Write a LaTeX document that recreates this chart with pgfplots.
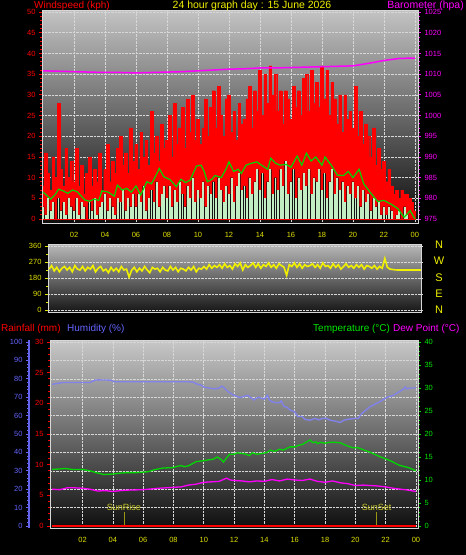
\documentclass[border=0pt]{standalone}
\usepackage{pgfplots}
\pgfplotsset{compat=1.18}
\usepackage{pgfplotstable}
\usepackage{fontspec}
\setmainfont{Liberation Sans}
\definecolor{wred}{RGB}{255,0,0}
\definecolor{wmag}{RGB}{255,0,255}
\definecolor{wyel}{RGB}{240,240,0}
\definecolor{tyel}{RGB}{225,225,0}
\definecolor{wgreen}{RGB}{0,215,0}
\definecolor{tgreen}{RGB}{0,230,0}
\definecolor{wwhite}{RGB}{195,238,195}
\definecolor{humline}{RGB}{130,130,235}
\definecolor{humtext}{RGB}{100,100,255}
\definecolor{humaxis}{RGB}{100,100,235}
\definecolor{frame}{RGB}{215,215,215}
\definecolor{gridc}{RGB}{215,215,215}
\definecolor{sunc}{RGB}{200,200,40}
\definecolor{sunl}{RGB}{150,150,20}
\definecolor{lowbg}{RGB}{18,18,18}
\definecolor{aT}{RGB}{195,195,195}\definecolor{aM}{RGB}{105,105,105}\definecolor{aB}{RGB}{12,12,12}
\definecolor{dT}{RGB}{185,185,185}\definecolor{dM}{RGB}{100,100,100}\definecolor{dB}{RGB}{22,22,22}
\definecolor{bT}{RGB}{200,200,200}\definecolor{bM}{RGB}{100,100,100}\definecolor{bB}{RGB}{14,14,14}

\pgfplotstableread[row sep=\\]{
m g s\\
0 8 3\\ 10 16 1\\ 20 11 5\\ 30 7 2\\ 40 15 4\\ 50 10 0\\
60 28 5\\ 70 12 2\\ 80 8 4\\ 90 17 1\\ 100 10 5\\ 110 14 3\\
120 9 2\\ 130 17 5\\ 140 8 1\\ 150 13 4\\ 160 6 3\\ 170 11 0\\
180 15 4\\ 190 8 2\\ 200 12 5\\ 210 9 1\\ 220 16 3\\ 230 7 4\\
240 12 6\\ 250 18 2\\ 260 9 5\\ 270 14 3\\ 280 11 1\\ 290 17 5\\
300 20 4\\ 310 13 7\\ 320 16 2\\ 330 11 5\\ 340 22 3\\ 350 14 6\\
360 18 3\\ 370 12 6\\ 380 21 4\\ 390 15 8\\ 400 19 2\\ 410 13 5\\
420 26 7\\ 430 16 4\\ 440 20 9\\ 450 14 3\\ 460 23 6\\ 470 17 8\\
480 19 5\\ 490 25 8\\ 500 15 3\\ 510 28 7\\ 520 18 4\\ 530 22 9\\
540 27 6\\ 550 17 3\\ 560 29 8\\ 570 21 5\\ 580 30 10\\ 590 19 4\\
600 24 7\\ 610 18 5\\ 620 22 9\\ 630 29 3\\ 640 20 8\\ 650 27 6\\
660 31 9\\ 670 22 5\\ 680 32 10\\ 690 25 7\\ 700 20 4\\ 710 29 8\\
720 30 6\\ 730 21 10\\ 740 26 4\\ 750 19 8\\ 760 28 11\\ 770 23 7\\
780 24 8\\ 790 29 5\\ 800 32 10\\ 810 22 6\\ 820 31 9\\ 830 26 12\\
840 36 7\\ 850 25 11\\ 860 35 5\\ 870 28 9\\ 880 37 12\\ 890 30 6\\
900 35 10\\ 910 26 7\\ 920 31 12\\ 930 23 8\\ 940 31 14\\ 950 29 6\\
960 24 9\\ 970 32 12\\ 980 27 5\\ 990 31 10\\ 1000 25 7\\ 1010 34 11\\
1020 35 8\\ 1030 26 12\\ 1040 36 6\\ 1050 28 10\\ 1060 33 9\\ 1070 27 12\\
1080 37 7\\ 1090 29 11\\ 1100 36 5\\ 1110 25 9\\ 1120 33 12\\ 1130 29 6\\
1140 23 10\\ 1150 30 7\\ 1160 21 9\\ 1170 30 4\\ 1180 24 8\\ 1190 26 6\\
1200 22 9\\ 1210 32 5\\ 1220 20 8\\ 1230 26 3\\ 1240 18 7\\ 1250 23 4\\
1260 20 6\\ 1270 15 2\\ 1280 22 5\\ 1290 13 3\\ 1300 17 4\\ 1310 12 1\\
1320 14 3\\ 1330 9 1\\ 1340 12 3\\ 1350 8 2\\ 1360 6 0\\ 1370 7 1\\
1380 5 2\\ 1390 7 0\\ 1400 6 3\\ 1410 6 1\\ 1420 5 0\\ 1430 4 0\\
1440 2 0\\
}\windtab

\pgfplotstableread[row sep=\\]{
m a\\
0 6.5\\ 18 5.5\\ 30 4.8\\ 48 6\\ 60 7.2\\ 78 6.8\\ 96 6.2\\ 114 7\\ 132 6.6\\ 144 5.8\\
162 4.6\\ 180 4.3\\ 198 4.8\\ 216 4.5\\ 228 6.8\\ 252 6.5\\ 276 5.5\\ 288 8.2\\ 306 7\\ 324 7.4\\
342 6.5\\ 360 8\\ 378 5.8\\ 402 9\\ 420 8.5\\ 438 10.6\\ 450 12.2\\ 468 10.2\\ 492 9.5\\ 516 7.8\\
534 9.6\\ 552 8.8\\ 570 9.4\\ 594 12.8\\ 612 13\\ 624 11.5\\ 636 9\\ 654 9.6\\ 666 10.5\\ 690 10\\
708 12\\ 720 13.8\\ 738 11.5\\ 756 12\\ 768 11\\ 786 13\\ 804 13.4\\ 828 13.8\\ 846 13\\ 870 12\\
882 14.7\\ 900 13.5\\ 918 13\\ 942 13.2\\ 960 12.5\\ 984 15.2\\ 1002 13\\ 1020 15.9\\ 1038 14\\ 1056 15\\
1080 13\\ 1092 15\\ 1116 13\\ 1140 10.6\\ 1164 10.5\\ 1182 11.5\\ 1200 10\\ 1224 12\\ 1242 8.5\\ 1266 6.5\\
1296 4.2\\ 1320 4.5\\ 1350 3.5\\ 1374 2.5\\ 1398 0.4\\ 1422 2\\ 1440 0\\
}\avgtab

\pgfplotstableread[row sep=\\]{
m p\\
0 1010.8\\ 60 1010.7\\ 120 1010.6\\ 180 1010.5\\ 240 1010.4\\ 300 1010.4\\ 360 1010.3\\
420 1010.4\\ 480 1010.5\\ 540 1010.6\\ 600 1010.8\\ 660 1011.0\\ 720 1011.2\\ 780 1011.3\\
840 1011.5\\ 900 1011.5\\ 960 1011.6\\ 1020 1011.7\\ 1080 1011.8\\ 1140 1011.9\\ 1200 1012.0\\
1260 1012.6\\ 1320 1013.3\\ 1380 1013.8\\ 1440 1013.9\\
}\prestab

\pgfplotstableread[row sep=\\]{
m d\\
0 230\\ 10 250\\ 20 220\\ 30 240\\ 40 215\\ 50 235\\
60 245\\ 70 225\\ 80 240\\ 90 215\\ 100 250\\ 110 230\\
120 225\\ 130 245\\ 140 220\\ 150 240\\ 160 230\\ 170 250\\
180 215\\ 190 235\\ 200 245\\ 210 220\\ 220 230\\ 230 210\\
240 240\\ 250 220\\ 260 235\\ 270 215\\ 280 245\\ 290 225\\
300 230\\ 310 185\\ 320 225\\ 330 240\\ 340 215\\ 350 235\\
360 220\\ 370 245\\ 380 225\\ 390 210\\ 400 240\\ 410 230\\
420 235\\ 430 215\\ 440 240\\ 450 225\\ 460 220\\ 470 245\\
480 225\\ 490 240\\ 500 215\\ 510 235\\ 520 230\\ 530 220\\
540 240\\ 550 225\\ 560 245\\ 570 215\\ 580 235\\ 590 230\\
600 245\\ 610 230\\ 620 255\\ 630 235\\ 640 250\\ 650 240\\
660 255\\ 670 235\\ 680 260\\ 690 240\\ 700 250\\ 710 230\\
720 260\\ 730 245\\ 740 265\\ 750 225\\ 760 255\\ 770 240\\
780 250\\ 790 265\\ 800 240\\ 810 260\\ 820 235\\ 830 255\\
840 245\\ 850 265\\ 860 240\\ 870 255\\ 880 235\\ 890 260\\
900 250\\ 910 240\\ 920 195\\ 930 255\\ 940 245\\ 950 265\\
960 240\\ 970 260\\ 980 235\\ 990 255\\ 1000 245\\ 1010 250\\
1020 260\\ 1030 240\\ 1040 255\\ 1050 235\\ 1060 265\\ 1070 245\\
1080 250\\ 1090 235\\ 1100 260\\ 1110 240\\ 1120 255\\ 1130 230\\
1140 245\\ 1150 260\\ 1160 240\\ 1170 250\\ 1180 235\\ 1190 255\\
1200 240\\ 1210 255\\ 1220 230\\ 1230 250\\ 1240 245\\ 1250 235\\
1260 250\\ 1270 230\\ 1280 245\\ 1290 235\\ 1300 290\\ 1310 240\\
1320 230\\ 1330 228\\ 1340 226\\ 1350 225\\ 1360 225\\ 1370 225\\
1380 225\\ 1390 225\\ 1400 225\\ 1410 225\\ 1420 225\\ 1430 225\\
1440 225\\
}\dirtab

\pgfplotstableread[row sep=\\]{
m h\\
0 77\\ 42 78\\ 60 78\\ 150 78\\ 170 79.3\\ 180 79.4\\ 230 79.3\\ 245 78.4\\ 300 78.4\\ 420 78.4\\
540 78.4\\ 558 78.2\\ 575 77\\ 590 76.6\\ 600 75.5\\ 620 75\\ 642 74.5\\ 660 75\\ 672 76\\ 685 74.5\\
696 73\\ 720 71\\ 744 69.8\\ 760 70.5\\ 774 71\\ 790 69.5\\ 798 68.5\\ 816 70\\ 830 69.3\\ 840 69\\
852 71\\ 860 68.5\\ 870 67.5\\ 888 67\\ 900 67\\ 906 68\\ 918 65\\ 930 64.5\\ 942 63\\ 960 62\\
972 59.5\\ 990 59.5\\ 1000 58\\ 1020 57.5\\ 1040 58.5\\ 1056 57.7\\ 1070 58.5\\ 1086 58.5\\ 1100 57.5\\ 1120 57\\
1140 56.3\\ 1155 57.5\\ 1170 58\\ 1200 58.5\\ 1212 58.5\\ 1224 61\\ 1260 65\\ 1296 67.5\\ 1326 70\\ 1350 71\\
1374 73\\ 1392 74.5\\ 1398 75.5\\ 1404 74.5\\ 1416 75\\ 1440 75\\
}\humtab

\pgfplotstableread[row sep=\\]{
m t\\
0 12.3\\ 30 12.4\\ 50 12.5\\ 80 12.3\\ 120 12.3\\ 150 12.0\\ 174 11.6\\ 204 11.2\\ 240 11.3\\ 270 11.5\\
294 11.6\\ 330 11.6\\ 360 11.7\\ 380 11.8\\ 402 12.2\\ 438 12.6\\ 480 12.7\\ 495 13.0\\ 510 13.1\\ 525 12.9\\
540 13.1\\ 570 14.0\\ 600 14.2\\ 620 14.4\\ 636 14.5\\ 654 15.0\\ 670 14.4\\ 678 13.9\\ 690 14.8\\ 702 15.6\\
720 15.6\\ 732 15.9\\ 750 15.8\\ 768 15.6\\ 780 15.3\\ 792 15.9\\ 810 15.6\\ 834 15.8\\ 850 16.0\\ 864 16.5\\
880 16.2\\ 900 16.7\\ 915 16.5\\ 930 16.9\\ 942 17.2\\ 960 17.2\\ 978 17.6\\ 990 17.7\\ 1005 18.2\\ 1020 18.7\\
1032 18.1\\ 1044 18.3\\ 1050 17.9\\ 1062 18.2\\ 1080 18.0\\ 1100 18.2\\ 1120 18.2\\ 1140 18.1\\ 1164 17.5\\ 1190 17.0\\
1212 17.0\\ 1230 16.6\\ 1260 16.0\\ 1296 15.1\\ 1320 14.6\\ 1338 14.2\\ 1374 13.2\\ 1410 12.7\\ 1440 12.0\\
}\temptab

\pgfplotstableread[row sep=\\]{
m d\\
0 8.0\\ 30 7.9\\ 60 8.3\\ 90 8.3\\ 120 8.2\\ 150 8.0\\ 180 7.6\\ 210 7.7\\ 240 7.5\\ 270 7.7\\
300 7.8\\ 360 7.9\\ 420 8.2\\ 480 8.4\\ 510 8.5\\ 540 8.9\\ 570 9.1\\ 600 9.5\\ 630 9.6\\ 660 9.7\\
690 10.4\\ 705 10.0\\ 720 9.9\\ 750 9.8\\ 780 9.6\\ 810 9.8\\ 840 9.7\\ 870 10.1\\ 900 9.8\\ 930 10.2\\
960 10.0\\ 990 9.9\\ 1020 10.2\\ 1050 9.7\\ 1080 9.5\\ 1110 9.8\\ 1140 9.4\\ 1170 9.2\\ 1200 8.8\\ 1230 8.9\\
1260 8.8\\ 1290 8.7\\ 1320 8.5\\ 1350 8.2\\ 1380 8.0\\ 1410 7.8\\ 1440 7.5\\
}\dewtab

\pgfplotsset{
  wx/.style={
    scale only axis,
    /pgf/number format/assume math mode=true,
    /pgf/number format/1000 sep={},
    tick label style={font=\fontsize{7.5}{8}\selectfont},
    xtick={120,240,...,1440},
    xticklabels={02,04,06,08,10,12,14,16,18,20,22,00},
    xticklabel style={text=tyel, yshift=-2.5pt},
    xtick style={draw=none},
    tick align=outside,
    major tick length=3pt,
    minor tick length=2pt,
    major grid style={densely dotted, gridc, line width=0.6pt},
    axis line style={draw=frame, line width=1pt},
  },
}

\begin{document}
\begin{tikzpicture}
\path[use as bounding box] (0pt,0pt) rectangle (466pt,-555pt);
\fill[black] (0pt,0pt) rectangle (466pt,-555pt);

% ---------- top panel: wind ----------
\begin{axis}[wx,
  at={(42pt,-10pt)}, anchor=north west, width=376pt, height=213pt,
  xmin=-4, xmax=1452, ymin=-0.97, ymax=50.5,
  axis background/.style={top color=aT, middle color=aM, bottom color=aB},
  xmajorgrids, ymajorgrids,
  xtick pos=left, ytick pos=left,
  ytick={0,5,...,50}, minor ytick={0,1,...,50},
  yticklabel style={text=wred},
  ytick style={draw=wred, line width=0.8pt},
]
\addplot[const plot mark mid, fill=wred, draw=wred, line width=0.4pt, no marks] table[x=m,y=g] {\windtab} \closedcycle;
\addplot[const plot mark mid, fill=lowbg, draw=none, no marks] table[x=m,y=s] {\windtab} \closedcycle;
\addplot[ycomb, draw=wwhite, line width=1.9pt, no marks] table[x=m,y=s] {\windtab};
\addplot[draw=wgreen, line width=1.2pt, no marks] table[x=m,y=a] {\avgtab};
\end{axis}
\begin{axis}[wx,
  at={(42pt,-10pt)}, anchor=north west, width=376pt, height=213pt,
  xmin=-4, xmax=1452, ymin=974.03, ymax=1025.5,
  axis y line*=right, axis x line=none,
  ytick={975,980,...,1025}, minor ytick={975,976,...,1025},
  yticklabel style={text=wmag},
  ytick style={draw=wmag, line width=0.8pt},
]
\addplot[draw=wmag, line width=1.5pt, no marks] table[x=m,y=p] {\prestab};
\end{axis}

% ---------- direction panel ----------
\begin{axis}[wx,
  at={(48pt,-244pt)}, anchor=north west, width=374pt, height=68pt,
  xmin=-4, xmax=1444, ymin=-11.25, ymax=371.25,
  axis background/.style={top color=dT, middle color=dM, bottom color=dB},
  ymajorgrids,
  xtick=\empty, ytick pos=left,
  ytick={0,90,...,360}, minor ytick={45,135,225,315},
  yticklabel style={text=tyel},
  ytick style={draw=tyel, line width=0.8pt},
]
\addplot[draw=wyel, line width=1.6pt, no marks] table[x=m,y=d] {\dirtab};
\end{axis}

% ---------- bottom panel ----------
\begin{axis}[wx,
  at={(50pt,-340pt)}, anchor=north west, width=368pt, height=188pt,
  xmin=-8.7, xmax=1448, ymin=-0.435, ymax=40.435,
  axis background/.style={top color=bT, middle color=bM, bottom color=bB},
  xmajorgrids,
  xtick pos=left, ytick pos=right,
  ytick={0,5,...,40}, minor ytick={0,1,...,40},
  yticklabel style={text=tgreen},
  ytick style={draw=tgreen, line width=0.8pt},
  extra y ticks={4,8,...,40}, extra y tick labels={},
  extra y tick style={ymajorgrids=true, major tick length=0pt},
]
\addplot[draw=wgreen, line width=1.3pt, no marks] table[x=m,y=t] {\temptab};
\addplot[draw=wmag, line width=1.3pt, no marks] table[x=m,y=d] {\dewtab};
\draw[sunl, line width=0.8pt] (axis cs:284,0) -- (axis cs:284,3.1);
\draw[sunl, line width=0.8pt] (axis cs:1284,0) -- (axis cs:1284,3.1);
\node[anchor=south, inner sep=1pt, text=sunc, font=\fontsize{9}{10}\selectfont] at (axis cs:284,3.1) {SunRise};
\node[anchor=south, inner sep=1pt, text=sunc, font=\fontsize{9}{10}\selectfont] at (axis cs:1284,3.1) {SunSet};
\end{axis}
\begin{axis}[wx,
  at={(50pt,-340pt)}, anchor=north west, width=368pt, height=188pt,
  xmin=-8.7, xmax=1448, ymin=-0.326, ymax=30.326,
  axis y line*=left, axis x line=none,
  ytick={0,5,...,30}, minor ytick={0,1,...,30},
  yticklabel style={text=wred},
  ytick style={draw=wred, line width=0.8pt},
]
\addplot[draw=wred, line width=2pt, no marks] coordinates {(0,0) (1440,0)};
\end{axis}
\begin{axis}[wx,
  at={(29pt,-340pt)}, anchor=north west, width=389pt, height=188pt,
  xmin=-91.8, xmax=1448, ymin=-1.087, ymax=101.087,
  axis y line*=left, axis x line=none,
  axis line style={draw=humaxis, line width=2.2pt},
  ytick={0,10,...,100}, minor ytick={0,2,...,100},
  yticklabel style={text=humtext},
  ytick style={draw=humtext, line width=0.8pt},
]
\addplot[draw=humline, line width=1.4pt, no marks] table[x=m,y=h] {\humtab};
\end{axis}

% ---------- texts ----------
\node[anchor=base west, inner sep=0pt, text=wred, font=\fontsize{10}{12}\selectfont] at (34pt,-8pt) {Windspeed (kph)};
\node[anchor=base, inner sep=0pt, text=wyel, font=\fontsize{10.5}{12}\selectfont] at (252pt,-8pt) {24 hour graph day : 15 June 2026};
\node[anchor=base east, inner sep=0pt, text=wmag, font=\fontsize{10.5}{12}\selectfont] at (464pt,-8pt) {Barometer (hpa)};

\node[anchor=base west, inner sep=0pt, text=wred, font=\fontsize{10}{12}\selectfont] at (1pt,-331pt) {Rainfall (mm)};
\node[anchor=base west, inner sep=0pt, text=humtext, font=\fontsize{10}{12}\selectfont] at (67pt,-331pt) {Humidity (\%)};
\node[anchor=base west, inner sep=0pt, text=tgreen, font=\fontsize{10}{12}\selectfont] at (313pt,-331pt) {Temperature (°C)};
\node[anchor=base west, inner sep=0pt, text=wmag, font=\fontsize{10}{12}\selectfont] at (393pt,-331pt) {Dew Point (°C)};

\foreach \l/\yy in {N/245,W/261,S/278,E/294,N/310}{
  \node[text=wyel, font=\fontsize{11}{12}\selectfont, inner sep=0pt] at (439pt,-\yy pt) {\l};
}
\end{tikzpicture}
\end{document}
